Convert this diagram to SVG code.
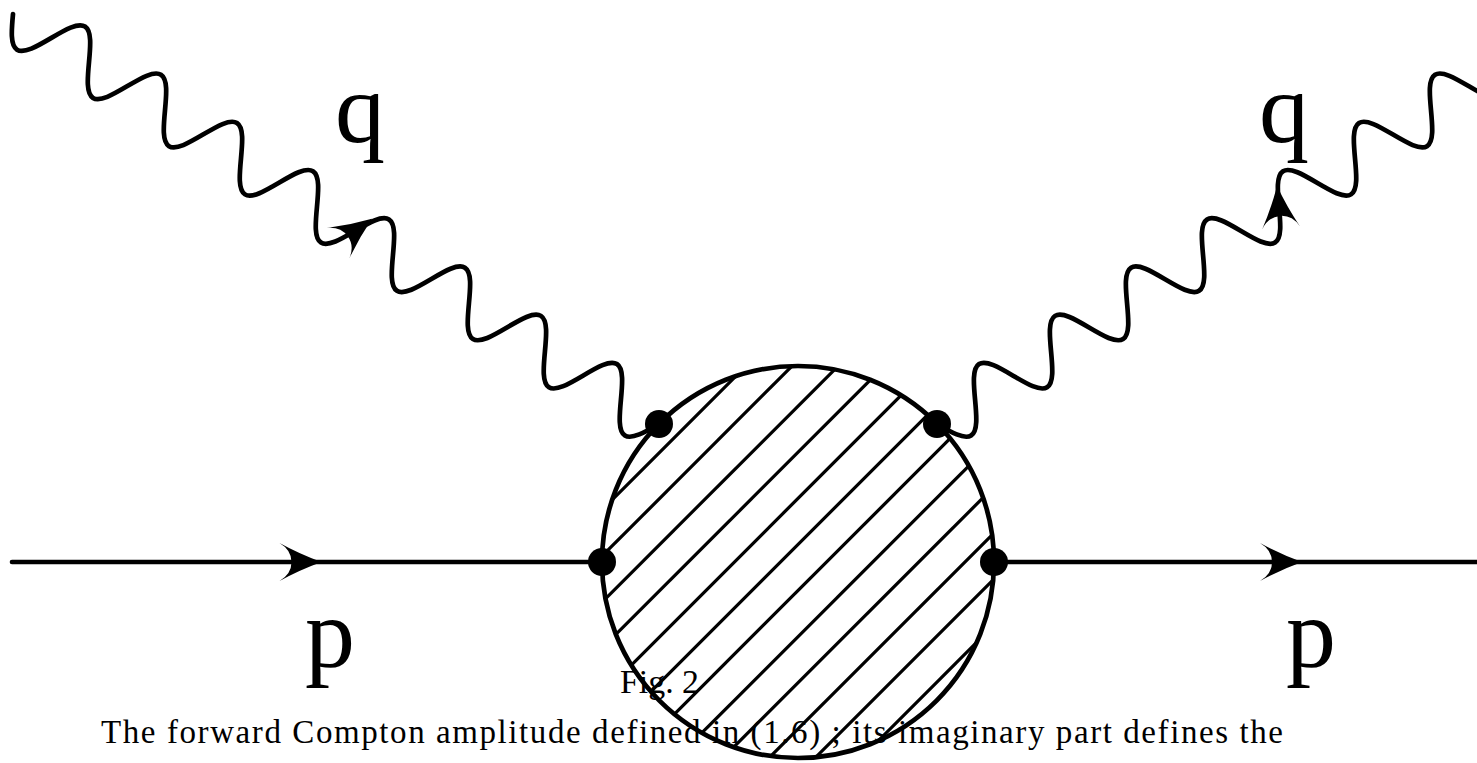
<svg xmlns="http://www.w3.org/2000/svg" xmlns:xlink="http://www.w3.org/1999/xlink" width="1477" height="763" viewBox="0 0 1477 763">
<style>
.ph{fill:none;stroke:#000;stroke-width:4.7;stroke-linecap:round;stroke-linejoin:round}
.fm{fill:none;stroke:#000;stroke-width:4.6;stroke-linecap:round}
.hatch{stroke:#000;stroke-width:3.2}
.blob{fill:none;stroke:#000;stroke-width:4.7}
.dot{fill:#000}
.arr{fill:#000;stroke:none}
.lbl{font-family:"Liberation Serif",serif;font-size:100px;fill:#000;text-anchor:middle}
.cap{font-family:"Liberation Serif",serif;font-size:33px;fill:#000}
</style>
<defs>
<path id="wave" class="ph" d="M0,0 c7.338,14.34 14.357,28 22.5,28 s15.162,-13.66 22.5,-28 s14.357,-28 22.5,-28 s15.162,13.66 22.5,28 s14.357,28 22.5,28 s15.162,-13.66 22.5,-28 s14.357,-28 22.5,-28 s15.162,13.66 22.5,28 s14.357,28 22.5,28 s15.162,-13.66 22.5,-28 s14.357,-28 22.5,-28 s15.162,13.66 22.5,28 s14.357,28 22.5,28 s15.162,-13.66 22.5,-28 s14.357,-28 22.5,-28 s15.162,13.66 22.5,28 s14.357,28 22.5,28 s15.162,-13.66 22.5,-28 s14.357,-28 22.5,-28 s15.162,13.66 22.5,28 s14.357,28 22.5,28 s15.162,-13.66 22.5,-28 s14.357,-28 22.5,-28 s15.162,13.66 22.5,28 s14.357,28 22.5,28 s15.162,-13.66 22.5,-28 s14.357,-28 22.5,-28 s15.162,13.66 22.5,28 s14.357,28 22.5,28 s15.162,-13.66 22.5,-28 s14.357,-28 22.5,-28 s15.162,13.66 22.5,28 s14.357,28 22.5,28 s15.162,-13.66 22.5,-28"/>
<path id="arrow" class="arr" d="M0,0 Q-22,-8 -42,-19 Q-30,-12 -30,0 Q-30,12 -42,19 Q-22,8 0,0 Z"/>
<clipPath id="blobclip"><circle cx="798" cy="562" r="196"/></clipPath>
</defs>
<rect width="1477" height="763" fill="#fff"/>

<g id="connectors">
  <g id="photon-in">
    <use xlink:href="#wave" href="#wave" transform="translate(13,14) rotate(32.4)"/>
    <use xlink:href="#arrow" href="#arrow" transform="translate(355,231) rotate(-36) translate(21,0)"/>
  </g>
  <g id="photon-out">
    <use xlink:href="#wave" href="#wave" transform="translate(1596,0) scale(-1,1) translate(13,14) rotate(32.4)"/>
    <use xlink:href="#arrow" href="#arrow" transform="translate(1279,207) rotate(-95.3) translate(21,0)"/>
  </g>
  <g id="proton-in">
    <line class="fm" x1="12" y1="562" x2="602" y2="562"/>
    <use xlink:href="#arrow" href="#arrow" transform="translate(321.5,562)"/>
  </g>
  <g id="proton-out">
    <line class="fm" x1="994" y1="562" x2="1490" y2="562"/>
    <use xlink:href="#arrow" href="#arrow" transform="translate(1302,562)"/>
  </g>
</g>

<g id="blob">
  <g clip-path="url(#blobclip)">
    <line class="hatch" x1="590" y1="522" x2="1010" y2="102"/>
    <line class="hatch" x1="590" y1="568.1" x2="1010" y2="148.1"/>
    <line class="hatch" x1="590" y1="614.2" x2="1010" y2="194.2"/>
    <line class="hatch" x1="590" y1="660.3" x2="1010" y2="240.3"/>
    <line class="hatch" x1="590" y1="706.4" x2="1010" y2="286.4"/>
    <line class="hatch" x1="590" y1="752.5" x2="1010" y2="332.5"/>
    <line class="hatch" x1="590" y1="798.6" x2="1010" y2="378.6"/>
    <line class="hatch" x1="590" y1="844.7" x2="1010" y2="424.7"/>
    <line class="hatch" x1="590" y1="890.8" x2="1010" y2="470.8"/>
    <line class="hatch" x1="590" y1="936.9" x2="1010" y2="516.9"/>
    <line class="hatch" x1="590" y1="983" x2="1010" y2="563"/>
    <line class="hatch" x1="590" y1="1029.1" x2="1010" y2="609.1"/>
  </g>
  <circle class="blob" cx="798" cy="562" r="196"/>
</g>

<g id="vertex-q-in"><circle class="dot" cx="659" cy="424" r="14"/></g>
<g id="vertex-q-out"><circle class="dot" cx="937" cy="424" r="14"/></g>
<g id="vertex-p-in"><circle class="dot" cx="602" cy="562" r="14"/></g>
<g id="vertex-p-out"><circle class="dot" cx="994" cy="562" r="14"/></g>

<g id="label-q-in"><text class="lbl" x="360" y="142">q</text></g>
<g id="label-q-out"><text class="lbl" x="1284" y="142">q</text></g>
<g id="label-p-in"><text class="lbl" x="330" y="667">p</text></g>
<g id="label-p-out"><text class="lbl" x="1311" y="667">p</text></g>

<g id="caption">
  <text class="cap" x="620" y="693" textLength="79" lengthAdjust="spacingAndGlyphs">Fig. 2</text>
  <text class="cap" x="101" y="743" textLength="1182" lengthAdjust="spacing">The forward Compton amplitude defined in (1.6) ; its imaginary part defines the</text>
</g>
</svg>
